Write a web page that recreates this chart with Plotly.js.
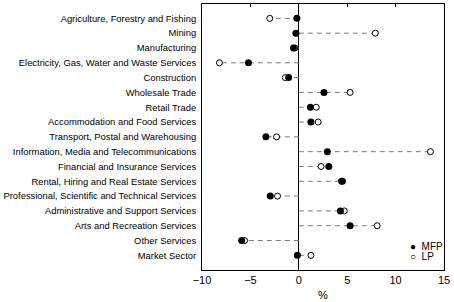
<!DOCTYPE html>
<html>
<head>
<meta charset="utf-8">
<script src="https://cdn.plot.ly/plotly-3.0.1.min.js"></script>
<style>
  html, body { margin: 0; padding: 0; background: #fff; }
  #chart { width: 454px; height: 302px; }
</style>
</head>
<body>
<div id="chart"></div>
<script>
// Industry productivity growth, MFP vs LP (%)
const industries = [
  "Agriculture, Forestry and Fishing",
  "Mining",
  "Manufacturing",
  "Electricity, Gas, Water and Waste Services",
  "Construction",
  "Wholesale Trade",
  "Retail Trade",
  "Accommodation and Food Services",
  "Transport, Postal and Warehousing",
  "Information, Media and Telecommunications",
  "Financial and Insurance Services",
  "Rental, Hiring and Real Estate Services",
  "Professional, Scientific and Technical Services",
  "Administrative and Support Services",
  "Arts and Recreation Services",
  "Other Services",
  "Market Sector"
];
const mfp = [-0.2, -0.3, -0.55, -5.2, -1.05, 2.6, 1.2, 1.25, -3.4, 2.95, 3.1, 4.5, -2.95, 4.3, 5.3, -5.9, -0.15];
const lp  = [-3.0, 7.9, -0.4, -8.2, -1.4, 5.3, 1.8, 2.0, -2.3, 13.6, 2.3, 4.4, -2.2, 4.7, 8.1, -5.6, 1.25];
const xTicks = [-10, -5, 0, 5, 10, 15];

// dashed guide from zero out to the furthest point of each row
const guideX = [], guideY = [];
industries.forEach((name, i) => {
  const far = Math.abs(mfp[i]) > Math.abs(lp[i]) ? mfp[i] : lp[i];
  guideX.push(0, far, null);
  guideY.push(name, name, null);
});

const font = "Liberation Sans, Arial, sans-serif";

Plotly.newPlot("chart", [
  {
    x: guideX,
    y: guideY,
    type: "scatter",
    mode: "lines",
    line: { color: "#7a7a7a", width: 1, dash: "5px,4px" },
    hoverinfo: "skip",
    showlegend: false
  },
  {
    x: lp,
    y: industries,
    name: "LP",
    type: "scatter",
    mode: "markers",
    marker: { symbol: "circle", size: 6, color: "#fff", line: { color: "#000", width: 1 } }
  },
  {
    x: mfp,
    y: industries,
    name: "MFP",
    type: "scatter",
    mode: "markers",
    marker: { symbol: "circle", size: 7, color: "#000", line: { color: "#000", width: 0 } }
  },
  {
    x: [0],
    y: [industries[0]],
    xaxis: "x2",
    type: "scatter",
    mode: "markers",
    marker: { opacity: 0 },
    hoverinfo: "skip",
    showlegend: false
  }
], {
  width: 454,
  height: 302,
  showlegend: false,
  paper_bgcolor: "#fff",
  plot_bgcolor: "#fff",
  font: { family: font, color: "#000", size: 9.4 },
  margin: { t: 4, b: 32, l: 202, r: 10 },
  xaxis: {
    range: [-10, 15],
    tickvals: xTicks,
    ticks: "",
    showgrid: false,
    zeroline: true,
    zerolinecolor: "#000",
    zerolinewidth: 1,
    showline: true,
    linecolor: "#000",
    linewidth: 1,
    tickfont: { size: 11 },
    title: { text: "%", font: { size: 11 }, standoff: 6 }
  },
  xaxis2: {
    overlaying: "x",
    side: "top",
    anchor: "y",
    range: [-10, 15],
    tickvals: xTicks,
    ticks: "inside",
    ticklen: 3,
    tickcolor: "#000",
    showticklabels: false,
    showgrid: false,
    zeroline: false,
    showline: true,
    linecolor: "#000"
  },
  yaxis: {
    type: "category",
    range: [16.99, -0.97],
    showgrid: false,
    zeroline: false,
    showline: true,
    mirror: true,
    linecolor: "#000",
    ticks: "",
    ticklabelstandoff: 3
  },
  annotations: [
    {
      xref: "paper", yref: "paper", x: 0.851, y: 0.088, xanchor: "left", yanchor: "middle",
      text: "●  MFP", showarrow: false, font: { size: 10 }
    },
    {
      xref: "paper", yref: "paper", x: 0.851, y: 0.049, xanchor: "left", yanchor: "middle",
      text: "○  LP", showarrow: false, font: { size: 10 }
    }
  ]
}, { displayModeBar: false, staticPlot: true });
</script>
</body>
</html>
